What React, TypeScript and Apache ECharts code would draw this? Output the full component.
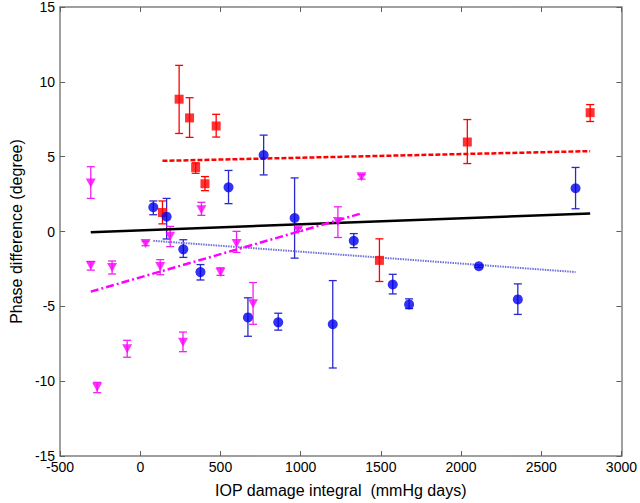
import React, { useEffect, useRef } from "react";
import * as echarts from "echarts";

// Red squares
const redX = [138, 242, 307, 345, 403, 473, 1491, 2039, 2805];
const redY = [1.27, 8.84, 7.59, 4.28, 3.19, 7.05, -1.93, 5.98, 7.94];
const redLo = [0.51, 6.55, 6.29, 3.89, 2.73, 6.31, -3.34, 4.54, 7.35];
const redHi = [2.04, 11.1, 8.94, 4.59, 3.67, 7.83, -0.49, 7.48, 8.48];

// Blue circles
const blueX = [81, 164, 268, 375, 550, 671, 769, 860, 962, 1200, 1331, 1574, 1676, 2111, 2354, 2714];
const blueY = [1.62, 0.99, -1.19, -2.71, 2.95, -5.74, 5.11, -6.07, 0.9, -6.2, -0.62, -3.54, -4.87, -2.32, -4.54, 2.89];
const blueLo = [1.12, -0.5, -1.73, -3.24, 1.86, -7.0, 3.78, -6.59, -1.78, -9.12, -1.08, -4.17, -5.15, -2.4, -5.54, 1.52];
const blueHi = [2.04, 2.21, -0.55, -2.21, 4.08, -4.43, 6.44, -5.46, 3.58, -3.28, -0.14, -2.86, -4.5, -2.24, -3.5, 4.28];

// Magenta triangles
const magX = [-309, -309, -269, -176, -82, 33, 124, 186, 266, 381, 500, 600, 703, 984, 1232, 1379];
const magY = [3.24, -2.28, -10.4, -2.41, -7.83, -0.8, -2.34, -0.31, -7.4, 1.45, -2.73, -0.8, -4.82, 0.12, 0.67, 3.65];
const magLo = [2.21, -2.58, -10.77, -2.84, -8.4, -0.95, -2.89, -1.01, -8.03, 1.08, -2.93, -1.4, -6.2, 0.0, -0.4, 3.5];
const magHi = [4.33, -2.0, -10.08, -1.97, -7.27, -0.65, -1.88, 0.34, -6.72, 1.95, -2.43, 0.01, -3.41, 0.24, 1.65, 3.8];

// Trend lines [x, y]
const redFit = [[138, 4.72], [2805, 5.37]];
const blueFit = [[81, -0.62], [2714, -2.71]];
const blackFit = [[-309, -0.05], [2805, 1.21]];
const magFit = [[-309, -4.02], [1379, 1.21]];

const xTicks = { min: -500, max: 3000, interval: 500 };
const yTicks = { min: -15, max: 15, interval: 5 };

const RED = "#ff0000";
const BLUE = "#0000ee";
const BLUE_BAR = "#2a2acc";
const MAG = "#ff00ff";
const MAG_BAR = "#ee22ee";

function errSeries(xs: number[], lo: number[], hi: number[], color: string) {
  return {
    type: "custom",
    silent: true,
    z: 2,
    data: xs.map((x, i) => [x, lo[i], hi[i]]),
    encode: { x: 0, y: [1, 2] },
    renderItem: (params: any, api: any) => {
      const top = api.coord([api.value(0), api.value(2)]);
      const bot = api.coord([api.value(0), api.value(1)]);
      const w = 4;
      const style = { stroke: color, lineWidth: 1.3, fill: "none" };
      return {
        type: "group",
        children: [
          { type: "line", shape: { x1: top[0], y1: top[1], x2: bot[0], y2: bot[1] }, style },
          { type: "line", shape: { x1: top[0] - w, y1: top[1], x2: top[0] + w, y2: top[1] }, style },
          { type: "line", shape: { x1: bot[0] - w, y1: bot[1], x2: bot[0] + w, y2: bot[1] }, style },
        ],
      };
    },
  };
}

function fitSeries(data: number[][], color: string, type: any, width: number) {
  return {
    type: "line",
    data,
    symbol: "none",
    silent: true,
    z: 3,
    lineStyle: { color, type, width },
  };
}

export default function App() {
  const ref = useRef<HTMLDivElement>(null);
  useEffect(() => {
    if (!ref.current) return;
    const chart = echarts.init(ref.current, undefined, { renderer: "svg" });
    const font = "Arial, 'Liberation Sans', sans-serif";
    const axisLineStyle = { color: "#808080", width: 1.5 };
    const tick = { show: true, inside: true, length: 5, lineStyle: { color: "#606060", width: 1 } };
    const plain = (v: number) => String(v);
    chart.setOption({
      animation: false,
      backgroundColor: "#ffffff",
      grid: { left: 45, right: 15, top: 5, bottom: 39, containLabel: false },
      xAxis: [
        {
          type: "value",
          position: "bottom",
          ...xTicks,
          axisLine: { show: true, onZero: false, lineStyle: axisLineStyle },
          axisTick: tick,
          splitLine: { show: false },
          axisLabel: { color: "#000", fontSize: 14, fontFamily: font, margin: 4, formatter: plain },
          name: "IOP damage integral  (mmHg days)",
          nameLocation: "middle",
          nameGap: 26,
          nameTextStyle: { color: "#000", fontSize: 16, fontFamily: font },
        },
        {
          type: "value",
          position: "top",
          ...xTicks,
          axisLine: { show: true, onZero: false, lineStyle: axisLineStyle },
          axisTick: tick,
          splitLine: { show: false },
          axisLabel: { show: false },
        },
      ],
      yAxis: [
        {
          type: "value",
          position: "left",
          ...yTicks,
          axisLine: { show: true, onZero: false, lineStyle: axisLineStyle },
          axisTick: tick,
          splitLine: { show: false },
          axisLabel: { color: "#000", fontSize: 14, fontFamily: font, margin: 5, formatter: plain },
          name: "Phase difference (degree)",
          nameLocation: "middle",
          nameGap: 30,
          nameTextStyle: { color: "#000", fontSize: 16, fontFamily: font },
        },
        {
          type: "value",
          position: "right",
          ...yTicks,
          axisLine: { show: true, onZero: false, lineStyle: axisLineStyle },
          axisTick: tick,
          splitLine: { show: false },
          axisLabel: { show: false },
        },
      ],
      series: [
        errSeries(redX, redLo, redHi, RED),
        errSeries(blueX, blueLo, blueHi, BLUE_BAR),
        errSeries(magX, magLo, magHi, MAG_BAR),
        fitSeries(blackFit, "#000000", "solid", 2.5),
        fitSeries(redFit, RED, [5, 2], 2.5),
        fitSeries(blueFit, "#7070dd", [1.5, 1], 2),
        fitSeries(magFit, MAG, [8, 3, 2, 3], 2.5),
        {
          type: "scatter",
          z: 4,
          symbol: "rect",
          symbolSize: 9,
          itemStyle: { color: RED },
          data: redX.map((x, i) => [x, redY[i]]),
        },
        {
          type: "scatter",
          z: 4,
          symbol: "circle",
          symbolSize: 10,
          itemStyle: { color: BLUE },
          data: blueX.map((x, i) => [x, blueY[i]]),
        },
        {
          type: "scatter",
          z: 4,
          symbol: "triangle",
          symbolRotate: 180,
          symbolSize: [10, 9],
          itemStyle: { color: MAG },
          data: magX.map((x, i) => [x, magY[i]]),
        },
      ],
    });
    return () => chart.dispose();
  }, []);
  return (
    <div
      ref={ref}
      style={{ position: "fixed", left: 0, top: 0, width: 640, height: 503, background: "#fff" }}
    />
  );
}
